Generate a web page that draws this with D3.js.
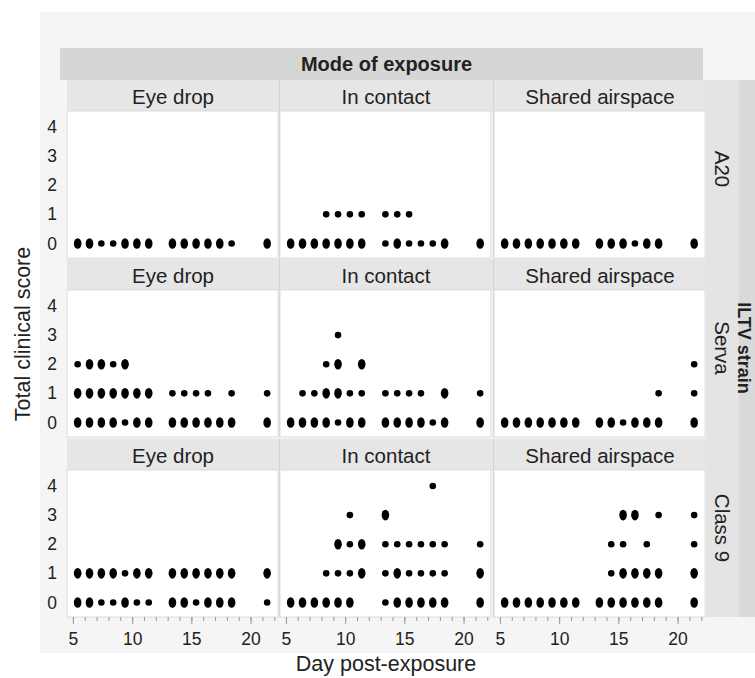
<!DOCTYPE html>
<head>
<meta charset="utf-8">
<style>
body { margin: 0; background: #fff; }
svg { display: block; }
text { font-family: "Liberation Sans", Arial, sans-serif; fill: #222; }
.strip { fill: #e6e6e6; }
</style>
</head>
<body>
<svg width="755" height="678"></svg>
<script src="https://d3js.org/d3.v7.min.js"></script>
<script>
// days where scores were recorded (as plotted)
var days = [5.4, 6.4, 7.4, 8.4, 9.4, 10.4, 11.4, 13.4, 14.4, 15.4, 16.4, 17.4, 18.4, 21.4];
var modes = ["Eye drop", "In contact", "Shared airspace"];
var strains = ["A20", "Serva", "Class 9"];
var yTicks = [0, 1, 2, 3, 4];
var xTicks = [5, 10, 15, 20];

// per panel: score -> marker per day (0 none, 1 single bird, 2 overlapping birds)
var a20Eye     = { 0: [2,2,1,1,2,2,2,2,2,2,2,2,1,2] };
var a20Contact = { 0: [2,2,2,2,2,2,2,1,2,1,1,1,2,2],
                   1: [0,0,0,1,1,1,1,1,1,1,0,0,0,0] };
var a20Shared  = { 0: [2,2,2,2,2,2,2,2,2,2,1,2,2,2] };

var servaEye     = { 0: [2,2,2,2,1,2,2,2,2,2,2,2,2,2],
                     1: [2,2,2,2,2,2,2,1,1,1,1,0,1,1],
                     2: [1,2,2,1,2,0,0,0,0,0,0,0,0,0] };
var servaContact = { 0: [2,2,2,2,1,2,2,2,2,2,2,1,2,2],
                     1: [0,1,1,2,2,1,1,1,1,1,1,0,2,1],
                     2: [0,0,0,1,2,0,2,0,0,0,0,0,0,0],
                     3: [0,0,0,0,1,0,0,0,0,0,0,0,0,0] };
var servaShared  = { 0: [2,2,2,2,2,2,2,2,2,1,2,2,2,2],
                     1: [0,0,0,0,0,0,0,0,0,0,0,0,1,1],
                     2: [0,0,0,0,0,0,0,0,0,0,0,0,0,1] };

var class9Eye     = { 0: [2,2,1,1,2,1,1,2,2,1,2,2,2,1],
                      1: [2,2,2,2,1,2,2,2,2,2,2,2,2,2] };
var class9Contact = { 0: [2,2,2,2,2,2,0,1,2,2,2,2,2,2],
                      1: [0,0,0,1,1,1,2,1,2,1,1,1,1,2],
                      2: [0,0,0,0,2,1,2,1,1,1,1,1,1,1],
                      3: [0,0,0,0,0,1,0,2,0,0,0,0,0,0],
                      4: [0,0,0,0,0,0,0,0,0,0,0,1,0,0] };
var class9Shared  = { 0: [2,2,2,2,2,2,2,2,2,2,2,2,2,2],
                      1: [0,0,0,0,0,0,0,0,1,2,2,2,2,2],
                      2: [0,0,0,0,0,0,0,0,1,1,0,1,0,1],
                      3: [0,0,0,0,0,0,0,0,0,2,2,0,1,1] };

var panels = [
  [a20Eye, a20Contact, a20Shared],
  [servaEye, servaContact, servaShared],
  [class9Eye, class9Contact, class9Shared]
];

var svg = d3.select("svg");

var colX = [67, 280, 494], panelW = 212;
var rowTop = [80, 259, 439], stripH = 31, plotH = 147;
var plotsRight = 706, plotsBottom = rowTop[2] + stripH + plotH;

// background frame
svg.append("rect").attr("x", 40).attr("y", 12).attr("width", 715).attr("height", 641).attr("fill", "#f5f5f5");
svg.append("rect").attr("x", 60).attr("y", 48).attr("width", 643).attr("height", 32).attr("fill", "#d6d6d6");
svg.append("text").attr("x", (colX[0] + plotsRight) / 2).attr("y", 64).attr("dy", "0.35em")
  .attr("text-anchor", "middle").style("font-size", "20px").style("font-weight", "bold")
  .text("Mode of exposure");

// right strips
svg.append("rect").attr("x", plotsRight).attr("y", 80).attr("width", 33).attr("height", plotsBottom - 80).attr("fill", "#e4e4e4");
svg.append("rect").attr("x", 739).attr("y", 80).attr("width", 20).attr("height", plotsBottom - 80).attr("fill", "#d9d9d9");
svg.append("text").attr("transform", "translate(738,348) rotate(90)")
  .attr("text-anchor", "middle").style("font-size", "18px").style("font-weight", "bold")
  .text("ILTV strain");

var x = d3.scaleLinear().domain([4.5, 22.4]).range([0, panelW]);
var y = d3.scaleLinear().domain([-0.5, 4.55]).range([plotH, 0]);

strains.forEach(function(strain, r) {
  var top = rowTop[r], pTop = top + stripH;

  // column strips
  svg.append("rect").attr("class", "strip").attr("x", colX[0]).attr("y", top)
    .attr("width", plotsRight - colX[0]).attr("height", stripH);

  modes.forEach(function(mode, c) {
    svg.append("text").attr("x", colX[c] + panelW / 2).attr("y", top + stripH / 2 + 1)
      .attr("dy", "0.35em").attr("text-anchor", "middle").style("font-size", "20.5px").text(mode);
    if (c > 0) svg.append("line").attr("x1", colX[c] - 0.5).attr("x2", colX[c] - 0.5)
      .attr("y1", top).attr("y2", pTop + plotH).attr("stroke", "#d2d2d2");

    var g = svg.append("g").attr("transform", "translate(" + colX[c] + "," + pTop + ")");
    g.append("rect").attr("width", panelW - 1).attr("height", plotH).attr("fill", "#fff")
      .attr("stroke", "#dcdcdc").attr("stroke-width", 1);

    var pts = [];
    var d = panels[r][c];
    Object.keys(d).forEach(function(s) {
      d[s].forEach(function(n, i) { if (n) pts.push({ day: days[i], score: +s, n: n }); });
    });
    g.selectAll("ellipse").data(pts).enter().append("ellipse")
      .attr("cx", function(p) { return x(p.day); })
      .attr("cy", function(p) { return y(p.score); })
      .attr("rx", function(p) { return p.n > 1 ? 3.8 : 3.3; })
      .attr("ry", function(p) { return p.n > 1 ? 5.3 : 3.3; })
      .attr("fill", "#000");

    // x axis under last row
    if (r === strains.length - 1) {
      var ax = svg.append("g").attr("transform", "translate(" + colX[c] + "," + (pTop + plotH) + ")");
      ax.call(d3.axisBottom(x).tickValues(d3.range(5, 23)).tickSize(4).tickFormat(""))
        .call(function(a) { a.select(".domain").remove(); a.selectAll("line").attr("stroke", "#999"); });
      ax.append("g").call(d3.axisBottom(x).tickValues(xTicks).tickSize(7).tickPadding(9).tickFormat(d3.format("d")))
        .call(function(a) {
          a.select(".domain").remove();
          a.selectAll("line").attr("stroke", "#999");
          a.selectAll("text").attr("fill", "#222").style("font-size", "17.5px")
            .style("font-family", "'Liberation Sans', Arial, sans-serif");
        });
    }
  });

  // row label, centred on strip + plot
  svg.append("text").attr("transform", "translate(722," + (top + (stripH + plotH) / 2) + ") rotate(90)")
    .attr("text-anchor", "middle").attr("dy", "0.35em").style("font-size", "20.5px").text(strain);

  // y axis
  var ay = svg.append("g").attr("transform", "translate(" + colX[0] + "," + pTop + ")");
  ay.call(d3.axisLeft(y).tickValues(yTicks).tickSize(0).tickPadding(10).tickFormat(d3.format("d")))
    .call(function(a) {
      a.select(".domain").remove();
      a.selectAll("text").attr("fill", "#222").style("font-size", "17.5px")
        .style("font-family", "'Liberation Sans', Arial, sans-serif");
    });
});

svg.append("text").attr("transform", "translate(22,334) rotate(-90)")
  .attr("text-anchor", "middle").attr("dy", "0.35em").style("font-size", "21.5px").text("Total clinical score");
svg.append("text").attr("x", 386).attr("y", 671).attr("text-anchor", "middle")
  .style("font-size", "21.5px").text("Day post-exposure");
</script>
</body>
